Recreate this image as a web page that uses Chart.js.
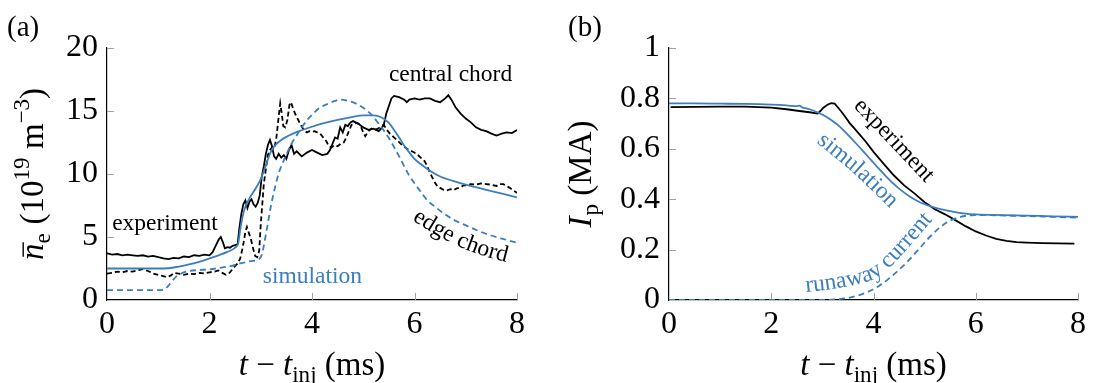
<!DOCTYPE html>
<html>
<head>
<meta charset="utf-8">
<script src="https://cdn.jsdelivr.net/npm/chart.js@4.4.1/dist/chart.umd.min.js"></script>
<style>
  html, body { margin: 0; padding: 0; background: #fff; }
  #wrap { position: relative; width: 1094px; height: 383px; overflow: hidden; }
  canvas { position: absolute; top: 0; }
  #ca { left: 0; }
  #cb { left: 547px; }
</style>
</head>
<body>
<div id="wrap">
  <canvas id="ca" width="547" height="383"></canvas>
  <canvas id="cb" width="547" height="383"></canvas>
</div>
<script>
// ---- axes ----
const xTicks = [0, 2, 4, 6, 8];
const xTickLabels = ['0', '2', '4', '6', '8'];
const yTicksA = [0, 5, 10, 15, 20];
const yTickLabelsA = ['0', '5', '10', '15', '20'];
const yTicksB = [0, 0.2, 0.4, 0.6, 0.8, 1];
const yTickLabelsB = ['0', '0.2', '0.4', '0.6', '0.8', '1'];

// ---- (a) line-averaged density, 10^19 m^-3, vs t - t_inj (ms) ----
const densCentralExp = [
  [0,3.7],[0.1,3.6],[0.2,3.65],[0.3,3.55],[0.4,3.6],[0.5,3.55],[0.6,3.5],[0.7,3.55],[0.8,3.45],[0.9,3.5],
  [1.0,3.4],[1.1,3.3],[1.2,3.25],[1.3,3.35],[1.4,3.3],[1.5,3.45],[1.6,3.4],[1.7,3.55],[1.8,3.5],[1.9,3.6],
  [2.0,3.55],[2.06,3.8],[2.12,4.3],[2.18,4.8],[2.22,5.0],[2.26,4.6],[2.3,4.1],[2.35,4.2],[2.4,4.15],[2.45,4.3],
  [2.5,4.35],[2.55,4.45],[2.58,5.6],[2.62,6.8],[2.66,7.6],[2.7,7.9],[2.74,7.3],[2.78,7.8],[2.82,8.0],[2.86,7.6],
  [2.9,7.4],[2.94,7.7],[2.98,8.3],[3.02,9.8],[3.06,10.6],[3.1,11.6],[3.14,12.3],[3.18,12.7],[3.22,12.2],[3.26,11.4],
  [3.3,11.2],[3.35,11.6],[3.4,11.3],[3.45,11.5],[3.5,11.2],[3.55,11.9],[3.6,12.3],[3.65,11.6],[3.7,11.8],[3.8,11.4],
  [3.9,11.7],[4.0,11.9],[4.1,11.7],[4.2,11.5],[4.3,11.6],[4.35,11.9],[4.4,12.4],[4.45,12.9],[4.5,12.8],[4.55,13.7],
  [4.6,13.3],[4.65,13.9],[4.7,13.8],[4.75,14.1],[4.8,14.2],[4.9,14.0],[5.0,13.7],[5.1,13.5],[5.2,13.6],[5.3,13.4],
  [5.35,13.6],[5.4,13.9],[5.45,14.8],[5.5,15.4],[5.55,16.0],[5.6,16.2],[5.7,16.1],[5.8,15.9],[5.85,15.7],[5.9,15.9],
  [6.0,16.0],[6.1,15.9],[6.2,16.0],[6.3,16.0],[6.4,15.8],[6.5,15.7],[6.6,16.0],[6.66,16.25],[6.72,15.9],[6.8,15.3],
  [6.9,14.8],[7.0,14.4],[7.1,14.1],[7.2,13.7],[7.3,13.5],[7.4,13.4],[7.5,13.2],[7.6,13.05],[7.7,13.2],[7.8,13.3],
  [7.9,13.25],[8.0,13.5]
];
const densEdgeExp = [
  [0,2.1],[0.1,2.15],[0.2,2.25],[0.3,2.2],[0.4,2.3],[0.5,2.25],[0.6,2.35],[0.7,2.45],[0.8,2.3],[0.9,2.1],
  [1.0,2.0],[1.1,1.9],[1.17,1.8],[1.25,1.95],[1.3,2.15],[1.4,2.1],[1.5,2.0],[1.6,2.1],[1.7,2.05],[1.8,2.15],
  [1.9,2.1],[2.0,2.2],[2.1,2.25],[2.17,2.35],[2.25,2.15],[2.32,2.0],[2.38,2.1],[2.44,2.4],[2.5,2.7],[2.55,2.9],
  [2.6,3.3],[2.65,4.2],[2.7,5.4],[2.73,5.8],[2.77,5.3],[2.81,4.8],[2.85,4.1],[2.89,3.5],[2.93,3.4],[2.97,3.9],
  [3.0,6.0],[3.03,7.6],[3.06,9.2],[3.1,10.4],[3.14,11.5],[3.18,11.9],[3.22,12.1],[3.26,12.0],[3.3,12.7],[3.34,14.2],
  [3.38,15.6],[3.41,14.8],[3.44,13.8],[3.48,13.7],[3.52,14.3],[3.56,15.5],[3.59,15.7],[3.63,15.2],[3.68,14.7],[3.73,14.3],
  [3.78,13.9],[3.84,13.5],[3.9,13.3],[3.95,13.4],[4.0,13.35],[4.05,13.4],[4.1,13.3],[4.16,13.2],[4.22,12.9],[4.28,12.6],
  [4.33,12.2],[4.38,12.1],[4.44,12.3],[4.5,12.2],[4.56,12.4],[4.62,12.5],[4.67,12.9],[4.72,13.4],[4.77,13.9],[4.82,14.0],
  [4.88,14.05],[4.94,13.9],[5.0,13.3],[5.04,13.0],[5.1,13.4],[5.16,13.6],[5.22,13.5],[5.29,13.6],[5.35,13.8],[5.4,13.9],
  [5.46,13.5],[5.52,13.2],[5.6,12.9],[5.68,12.6],[5.76,12.3],[5.85,12.0],[5.95,11.8],[6.04,11.6],[6.12,11.3],[6.2,11.0],
  [6.25,10.6],[6.3,10.1],[6.35,9.7],[6.4,9.3],[6.45,9.0],[6.5,8.9],[6.56,8.75],[6.63,8.7],[6.7,8.8],[6.76,8.7],
  [6.82,8.85],[6.9,8.95],[6.96,9.1],[7.02,9.1],[7.1,9.2],[7.2,9.15],[7.3,9.25],[7.4,9.2],[7.5,9.15],[7.6,9.05],
  [7.66,9.2],[7.73,9.2],[7.8,9.05],[7.86,8.9],[7.93,8.7],[8.0,8.5]
];
const densCentralSim = [
  [0,2.5],[0.5,2.5],[1.0,2.5],[1.2,2.52],[1.4,2.65],[1.6,2.82],[1.8,3.03],[2.0,3.3],[2.2,3.58],[2.35,3.82],
  [2.5,4.15],[2.56,4.5],[2.6,5.6],[2.65,6.7],[2.7,7.4],[2.8,8.2],[2.9,8.85],[3.0,9.6],[3.1,10.7],[3.2,11.8],
  [3.3,12.35],[3.4,12.7],[3.5,12.95],[3.75,13.4],[4.0,13.75],[4.25,14.05],[4.5,14.3],[4.75,14.5],[5.0,14.65],[5.2,14.65],
  [5.35,14.5],[5.5,14.05],[5.6,13.5],[5.7,12.9],[5.8,12.25],[5.9,11.7],[6.0,11.2],[6.15,10.7],[6.3,10.25],[6.5,9.8],
  [6.75,9.45],[7.0,9.15],[7.25,8.9],[7.5,8.65],[7.75,8.4],[8.0,8.15]
];
const densEdgeSim = [
  [0,0.78],[0.5,0.78],[1.0,0.78],[1.1,0.8],[1.18,1.05],[1.25,1.4],[1.35,1.85],[1.45,2.1],[1.6,2.3],[1.8,2.38],
  [2.0,2.43],[2.2,2.55],[2.4,2.68],[2.6,2.9],[2.8,3.08],[2.92,3.17],[2.98,3.3],[3.02,3.6],[3.06,4.3],[3.1,5.2],
  [3.15,6.35],[3.2,7.5],[3.25,8.45],[3.3,9.3],[3.35,10.05],[3.42,10.8],[3.5,11.55],[3.6,12.4],[3.7,13.05],[3.8,13.7],
  [3.9,14.25],[4.0,14.7],[4.15,15.25],[4.3,15.55],[4.45,15.8],[4.55,15.9],[4.7,15.8],[4.85,15.6],[5.0,15.25],[5.15,14.75],
  [5.3,14.0],[5.4,13.45],[5.5,12.85],[5.6,12.15],[5.7,11.4],[5.8,10.6],[5.9,9.85],[6.0,9.25],[6.12,8.6],[6.25,7.9],
  [6.4,7.4],[6.56,6.9],[6.75,6.4],[6.9,6.1],[7.1,5.75],[7.3,5.4],[7.5,5.12],[7.7,4.88],[8.0,4.55]
];

// ---- (b) plasma current, MA ----
const currentExp = [
  [0.03,0.765],[0.5,0.766],[1.0,0.767],[1.5,0.767],[2.0,0.763],[2.3,0.757],[2.55,0.75],[2.75,0.745],[2.91,0.74],[2.96,0.75],
  [3.02,0.763],[3.1,0.775],[3.17,0.781],[3.24,0.779],[3.3,0.765],[3.37,0.748],[3.45,0.726],[3.53,0.703],[3.63,0.68],[3.73,0.656],
  [3.85,0.628],[4.0,0.588],[4.2,0.54],[4.4,0.494],[4.6,0.455],[4.8,0.423],[5.0,0.388],[5.2,0.36],[5.4,0.34],[5.6,0.317],
  [5.8,0.293],[6.0,0.272],[6.2,0.256],[6.4,0.243],[6.6,0.235],[6.8,0.23],[7.0,0.228],[7.3,0.226],[7.6,0.225],[7.93,0.224]
];
const currentSim = [
  [0,0.78],[0.5,0.78],[1.0,0.779],[1.5,0.778],[2.0,0.775],[2.3,0.772],[2.5,0.769],[2.55,0.771],[2.6,0.765],[2.75,0.757],
  [2.9,0.745],[3.05,0.73],[3.2,0.71],[3.35,0.686],[3.5,0.655],[3.65,0.623],[3.8,0.59],[3.95,0.556],[4.1,0.522],[4.25,0.49],
  [4.4,0.46],[4.55,0.434],[4.7,0.412],[4.85,0.394],[5.0,0.38],[5.2,0.367],[5.4,0.357],[5.6,0.349],[5.8,0.343],[6.0,0.34],
  [6.5,0.337],[7.0,0.335],[7.5,0.332],[8.0,0.33]
];
const currentRunaway = [
  [0,0],[1.0,0],[2.0,0],[3.0,0],[3.3,0.003],[3.5,0.008],[3.7,0.018],[3.9,0.033],[4.1,0.055],[4.3,0.085],
  [4.5,0.12],[4.7,0.16],[4.9,0.205],[5.1,0.25],[5.3,0.288],[5.5,0.315],[5.7,0.33],[5.9,0.336],[6.2,0.337],[6.6,0.335],
  [7.0,0.333],[7.5,0.33],[8.0,0.327]
];

const BLUE = '#3b7ec0';
const SERIF = 'Liberation Serif';
const TICK_FONT = 32;
const TITLE_FONT = 33;
const NOTE_FONT = 23.5;

Chart.defaults.font.family = SERIF;
Chart.defaults.color = '#000';

const toXY = arr => arr.map(([x, y]) => ({ x, y }));

function line(data, color, dashed, smooth) {
  return {
    data: toXY(data),
    borderColor: color,
    borderWidth: 1.8,
    borderDash: dashed ? (color === BLUE ? [6, 4] : [5, 3]) : [],
    pointRadius: 0,
    fill: false,
    tension: 0,
    cubicInterpolationMode: smooth ? 'monotone' : 'default'
  };
}

// ---- text helpers ----
function font(size, italic) {
  return (italic ? 'italic ' : '') + size + 'px "' + SERIF + '", serif';
}

// Draws a run of text pieces (italic / sub / superscript) centred on (x, y).
function drawRich(ctx, parts, x, y, angle, size) {
  const pieces = parts.map(p => {
    const s = (p.sub || p.sup) ? size * 0.7 : size;
    ctx.font = font(s, p.it);
    return { ...p, s, w: ctx.measureText(p.t).width + (p.kern || 0) * size };
  });
  const total = pieces.reduce((a, p) => a + p.w, 0);
  ctx.save();
  ctx.translate(x, y);
  ctx.rotate(angle);
  ctx.fillStyle = '#000';
  ctx.textAlign = 'left';
  ctx.textBaseline = 'alphabetic';
  let cx = -total / 2;
  for (const p of pieces) {
    ctx.font = font(p.s, p.it);
    const dy = p.sub ? size * 0.22 : p.sup ? -size * 0.42 : 0;
    ctx.fillText(p.t, cx, dy);
    if (p.bar) {
      ctx.beginPath();
      ctx.lineWidth = 1.4;
      ctx.strokeStyle = '#000';
      ctx.moveTo(cx + size * 0.1, -size * 0.6);
      ctx.lineTo(cx + p.w + size * 0.04, -size * 0.6);
      ctx.stroke();
    }
    cx += p.w;
  }
  ctx.restore();
}

// Catmull-Rom resampling of a few anchor points
function smoothPath(pts, n) {
  const out = [];
  for (let i = 0; i < pts.length - 1; i++) {
    const p0 = pts[Math.max(i - 1, 0)], p1 = pts[i], p2 = pts[i + 1], p3 = pts[Math.min(i + 2, pts.length - 1)];
    for (let k = 0; k < n; k++) {
      const t = k / n, t2 = t * t, t3 = t2 * t;
      const c = j => 0.5 * (2 * p1[j] + (-p0[j] + p2[j]) * t + (2 * p0[j] - 5 * p1[j] + 4 * p2[j] - p3[j]) * t2 + (-p0[j] + 3 * p1[j] - 3 * p2[j] + p3[j]) * t3);
      out.push([c(0), c(1)]);
    }
  }
  out.push(pts[pts.length - 1]);
  return out;
}

// Lays the letters of a label along a curve, one glyph at a time.
function textOnPath(ctx, text, pts, color, size) {
  const P = smoothPath(pts, 24);
  const L = [0];
  for (let i = 1; i < P.length; i++) L.push(L[i - 1] + Math.hypot(P[i][0] - P[i - 1][0], P[i][1] - P[i - 1][1]));
  const total = L[L.length - 1];
  function at(s) {
    let i;
    if (s <= 0) i = 0;
    else if (s >= total) i = P.length - 2;
    else { i = 0; while (i < P.length - 2 && L[i + 1] < s) i++; }
    const a = P[i], b = P[i + 1];
    const seg = (L[i + 1] - L[i]) || 1;
    const f = (s - L[i]) / seg;
    return { x: a[0] + (b[0] - a[0]) * f, y: a[1] + (b[1] - a[1]) * f, ang: Math.atan2(b[1] - a[1], b[0] - a[0]) };
  }
  ctx.save();
  ctx.font = font(size, false);
  ctx.fillStyle = color;
  ctx.textAlign = 'center';
  ctx.textBaseline = 'alphabetic';
  let s = 0;
  for (const ch of text) {
    const w = ctx.measureText(ch).width;
    const p = at(s + w / 2);
    ctx.save();
    ctx.translate(p.x, p.y);
    ctx.rotate(p.ang);
    ctx.fillText(ch, 0, 0);
    ctx.restore();
    s += w;
  }
  ctx.restore();
}

// Inner tick marks, panel letter, axis titles and curve labels
function decorations(cfg) {
  return {
    id: 'decorations',
    beforeDatasetsDraw(chart) {
      const { ctx, chartArea: a, scales: { x, y } } = chart;
      ctx.save();
      ctx.strokeStyle = '#a0a0a0';
      ctx.lineWidth = 1;
      ctx.beginPath();
      xTicks.forEach(v => {
        if (v === 0) return;
        const px = Math.round(x.getPixelForValue(v)) + 0.5;
        ctx.moveTo(px, a.bottom);
        ctx.lineTo(px, a.bottom - 7);
      });
      cfg.yTicks.forEach(v => {
        if (v === 0) return;
        const py = Math.round(y.getPixelForValue(v)) + 0.5;
        ctx.moveTo(a.left, py);
        ctx.lineTo(a.left + 7, py);
      });
      ctx.stroke();
      ctx.restore();
    },
    afterDraw(chart) {
      const { ctx, chartArea: a, scales: { x, y } } = chart;
      const P = (t, v) => [x.getPixelForValue(t), y.getPixelForValue(v)];
      ctx.save();
      ctx.fillStyle = '#000';
      ctx.font = font(29, false);
      ctx.textAlign = 'left';
      ctx.textBaseline = 'alphabetic';
      ctx.fillText(cfg.letter, cfg.letterX, 36);
      ctx.restore();

      drawRich(ctx, [{ t: 't', it: 1 }, { t: ' − ' }, { t: 't', it: 1 }, { t: 'inj', sub: 1 }, { t: ' (ms)' }],
        (a.left + a.right) / 2, 375, 0, TITLE_FONT);
      drawRich(ctx, cfg.yTitle, cfg.yTitleX, (a.top + a.bottom) / 2, -Math.PI / 2, TITLE_FONT);

      for (const n of cfg.notes) {
        if (n.path) {
          textOnPath(ctx, n.text, n.path.map(([t, v]) => P(t, v)), n.color, NOTE_FONT);
        } else {
          const [px, py] = P(n.at[0], n.at[1]);
          ctx.save();
          ctx.font = font(NOTE_FONT, false);
          ctx.fillStyle = n.color;
          ctx.textAlign = 'left';
          ctx.textBaseline = 'alphabetic';
          ctx.fillText(n.text, px, py);
          ctx.restore();
        }
      }
    }
  };
}

function makeChart(id, datasets, cfg) {
  return new Chart(document.getElementById(id), {
    type: 'line',
    data: { datasets },
    options: {
      responsive: false,
      animation: false,
      devicePixelRatio: 1,
      layout: { padding: { top: 48, right: cfg.rightPad, bottom: 0, left: 0 } },
      plugins: { legend: { display: false }, tooltip: { enabled: false } },
      scales: {
        x: {
          type: 'linear', min: 0, max: 8,
          afterBuildTicks: s => { s.ticks = xTicks.map(v => ({ value: v })); },
          afterFit: s => { s.height = 83; },
          ticks: {
            callback: (v, i) => xTickLabels[i],
            font: { family: SERIF, size: TICK_FONT }, color: '#000',
            padding: 5, maxRotation: 0, autoSkip: false
          },
          grid: { display: false, drawTicks: false },
          border: { display: true, color: '#000', width: 1.2 }
        },
        y: {
          type: 'linear', min: 0, max: cfg.yMax,
          afterBuildTicks: s => { s.ticks = cfg.yTicks.map(v => ({ value: v })); },
          afterFit: s => { s.width = cfg.yWidth; },
          ticks: {
            callback: (v, i) => cfg.yLabels[i],
            font: { family: SERIF, size: TICK_FONT }, color: '#000',
            padding: 9, autoSkip: false
          },
          grid: { display: false, drawTicks: false },
          border: { display: true, color: '#000', width: 1.2 }
        }
      }
    },
    plugins: [decorations(cfg)]
  });
}

// Panel (a): density
makeChart('ca', [
  line(densCentralSim, BLUE, false, true),
  line(densEdgeSim, BLUE, true, true),
  line(densCentralExp, '#000', false, false),
  line(densEdgeExp, '#000', true, false)
], {
  letter: '(a)', letterX: 7,
  yTicks: yTicksA, yLabels: yTickLabelsA, yMax: 20, yWidth: 107, rightPad: 30,
  yTitleX: 43,
  yTitle: [{ t: 'n', it: 1, bar: 1 }, { t: 'e', sub: 1, kern: 0.02 }, { t: ' (10' }, { t: '19', sup: 1 }, { t: ' m' }, { t: '−3', sup: 1 }, { t: ')' }],
  notes: [
    { text: 'experiment', color: '#000', at: [0.1, 5.56] },
    { text: 'central chord', color: '#000', at: [5.5, 17.38] },
    { text: 'simulation', color: BLUE, at: [3.04, 1.35] },
    { text: 'edge chord', color: '#000', path: [[5.95, 6.35], [6.46, 5.08], [6.93, 4.13], [7.43, 3.41], [8.02, 2.78]] }
  ]
});

// Panel (b): plasma current
makeChart('cb', [
  line(currentSim, BLUE, false, true),
  line(currentRunaway, BLUE, true, true),
  line(currentExp, '#000', false, false)
], {
  letter: '(b)', letterX: 21,
  yTicks: yTicksB, yLabels: yTickLabelsB, yMax: 1, yWidth: 122, rightPad: 16,
  yTitleX: 44,
  yTitle: [{ t: 'I', it: 1, kern: 0.03 }, { t: 'p', sub: 1 }, { t: ' (MA)' }],
  notes: [
    { text: 'experiment', color: '#000', path: [[3.6, 0.768], [4.2, 0.64], [4.9, 0.49]] },
    { text: 'simulation', color: BLUE, path: [[2.88, 0.625], [3.6, 0.505], [4.36, 0.357]] },
    { text: 'runaway current', color: BLUE, path: [[2.68, 0.032], [3.21, 0.044], [3.85, 0.071], [4.17, 0.103], [4.48, 0.163], [4.78, 0.23], [5.07, 0.298]] }
  ]
});
</script>
</body>
</html>
